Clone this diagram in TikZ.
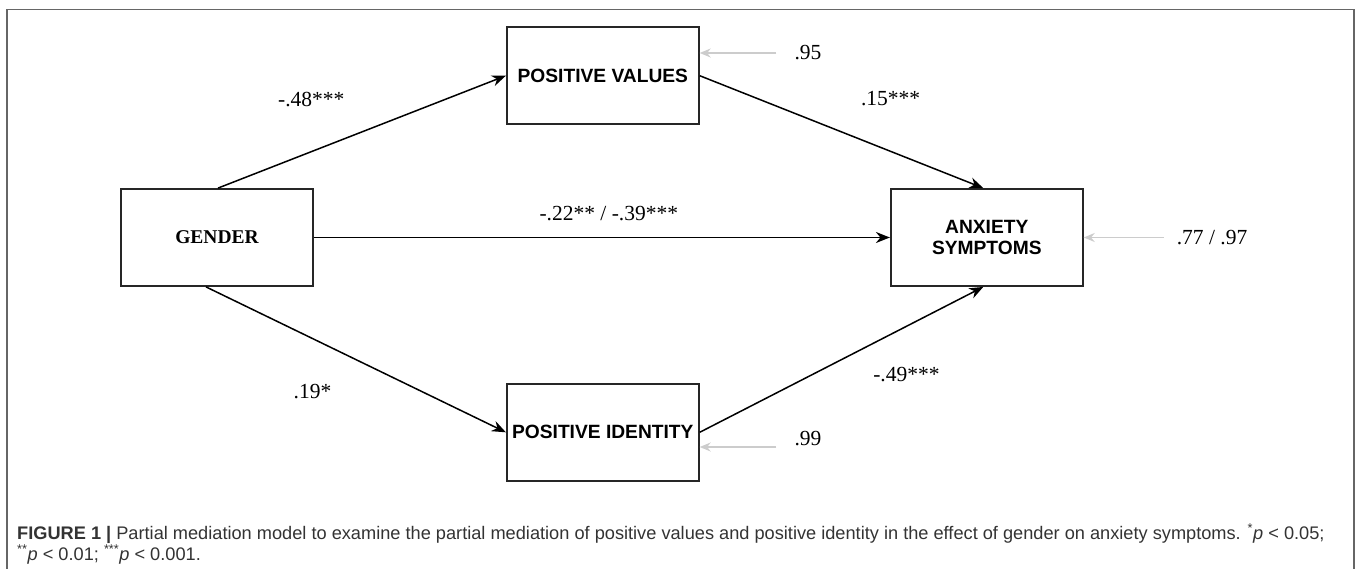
\documentclass[tikz,border=0pt]{standalone}
\usepackage{fontspec}
\setmainfont{Liberation Serif}
\setsansfont{Liberation Sans}
\newfontfamily\capfont{Liberation Sans}
\usetikzlibrary{positioning, arrows.meta}

\begin{document}
\begin{tikzpicture}[x=1pt, y=-1pt,
                  box/.style={draw=black!85, line width=1.8pt, inner sep=0pt,
                              minimum width=192pt, minimum height=97pt, align=center},
                  varbox/.style={box, font=\fontsize{19.2}{21}\selectfont\sffamily\bfseries},
                  genbox/.style={box, font=\fontsize{19.5}{22}\selectfont\bfseries},
                  lbl/.style={inner sep=0pt, font=\fontsize{21.5}{23}\selectfont},
                  arr/.style={-{Stealth[length=14pt, width=11pt]}, line width=1.5pt},
                  err/.style={-{Stealth[length=11pt, width=9pt]}, line width=1.3pt, gray!40},
                  frame/.style={draw=black!60, line width=1.5pt},
                  capnode/.style={inner sep=0pt, align=left, text=black!80,
                              font=\capfont\fontsize{18.2}{21}\selectfont},
            ]
            \useasboundingbox (0,0) rectangle (1360,569);
            \draw[frame] (7,569) -- (7,9.5) -- (1354,9.5) -- (1354,569);

            \node[genbox] (gender) at (217,237.5) {GENDER};
            \node[varbox, above right=63pt and 192pt of gender] (values) {POSITIVE VALUES};
            \node[varbox, below right=96pt and 192pt of gender] (identity) {POSITIVE IDENTITY};
            \node[varbox, right=576pt of gender] (anxiety) {ANXIETY\\SYMPTOMS};

            \draw[arr] ([xshift=1pt]gender.north) --
                  node[lbl, pos=.324, yshift=52pt] {-.48***} (values.west);
            \draw[arr] ([xshift=-11pt]gender.south) --
                  node[lbl, pos=.355, yshift=-53pt] {.19*} (identity.west);
            \draw[arr] (gender.east) --
                  node[lbl, pos=.512, yshift=24pt] {-.22** / -.39***} (anxiety.west);
            \draw[arr] (values.east) --
                  node[lbl, pos=.673, yshift=53pt] {.15***} ([xshift=-3.5pt]anxiety.north);
            \draw[arr] (identity.east) --
                  node[lbl, pos=.729, yshift=-48pt] {-.49***} ([xshift=-3.5pt]anxiety.south);

            % residual terms
            \node[lbl] (resv) at (808,53) {.95};
            \draw[err] ([xshift=-18pt]resv.west) -- (resv.west -| values.east);
            \node[lbl] (resi) at (808,439) {.99};
            \coordinate (resi tail) at ([shift={(-18pt,-8pt)}]resi.west);
            \draw[err] (resi tail) -- (resi tail -| identity.east);
            \node[lbl] (resa) at (1212,237.5) {.77 / .97};
            \draw[err] ([xshift=-13pt]resa.west) -- (resa.west -| anxiety.east);

            \node[capnode, anchor=base west] (caption) at (17,560)
                  {\textbf{FIGURE 1 |} Partial mediation model to examine the partial mediation of positive values and positive identity in the effect of gender on anxiety symptoms. \textsuperscript{*}\textit{p} < 0.05;\\
                  \textsuperscript{**}\textit{p} < 0.01; \textsuperscript{***}\textit{p} < 0.001.};
      \end{tikzpicture}
\end{document}
